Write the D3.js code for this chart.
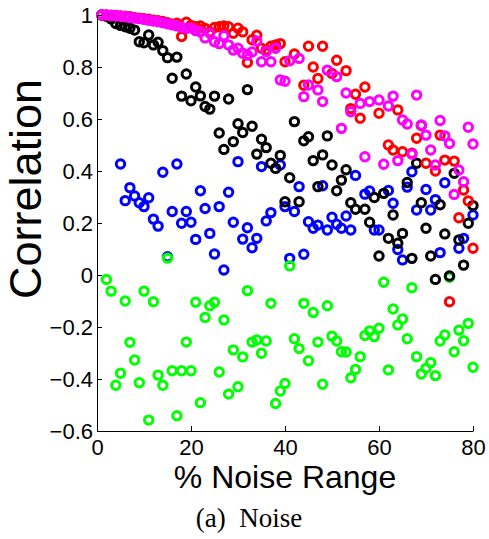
<!DOCTYPE html>
<html>
<head>
<meta charset="utf-8">
<script src="https://cdn.jsdelivr.net/npm/d3@7"></script>
<style>
  html, body { margin: 0; padding: 0; background: #fff; }
  svg { display: block; }
  text { font-family: "Liberation Sans", Arial, Helvetica, sans-serif; fill: #000; }
  .caption { font-family: "Liberation Serif", "DejaVu Serif", serif; white-space: pre; }
</style>
</head>
<body>
<svg id="chart" width="489" height="539"></svg>
<script>
// Correlation vs. % noise range, one series per measure: [noise %, correlation]
const blueSeries = [
  [5,0.427],[6,0.286],[7,0.336],[8,0.304],[9,0.278],[10,0.263],[11,0.297],[12,0.215],[13,0.188],[14,0.395],
  [15,0.07],[16,0.244],[17,0.427],[18,0.199],[19,0.244],[20,0.203],[21,0.137],[22,0.324],[23,0.256],[24,0.160],
  [25,0.081],[26,0.263],[27,0.019],[28,0.318],[29,0.203],[30,0.436],[31,0.138],[32,0.182],[33,0.105],[34,0.141],
  [35,0.417],[36,0.208],[37,0.240],[39,0.423],[40,0.263],[41,0.064],[42,0.244],[43,0.340],[44,0.080],[45,0.205],
  [46,0.180],[47,0.192],[48,0.343],[49,0.173],[50,0.222],[51,0.195],[52,0.180],[53,0.227],[54,0.173],[55,0.383],
  [57,0.311],[58,0.323],[59,0.173],[60,0.173],[62,0.325],[63,0.276],[64,0.098],[65,0.058],[66,0.338],[67,0.397],
  [68,0.250],[70,0.329],[71,0.250],[72,0.290],[73,0.086],[74,0.355],[75,-0.006],[77,0.103],[78,0.141],[80,0.231]
];

const greenSeries = [
  [2,-0.017],[3,-0.062],[4,-0.424],[5,-0.378],[6,-0.100],[7,-0.259],[8,-0.327],[9,-0.414],[10,-0.062],[11,-0.558],
  [12,-0.103],[13,-0.385],[14,-0.424],[15,0.065],[16,-0.368],[17,-0.541],[18,-0.368],[19,-0.258],[20,-0.368],[21,-0.105],
  [22,-0.491],[23,-0.163],[24,-0.118],[25,-0.105],[26,-0.373],[27,-0.173],[28,-0.458],[29,-0.288],[30,-0.430],[31,-0.315],
  [32,-0.060],[33,-0.258],[34,-0.250],[35,-0.301],[36,-0.254],[37,-0.109],[38,-0.494],[39,-0.446],[40,-0.417],[41,0.035],
  [42,-0.245],[43,-0.283],[44,-0.109],[45,-0.330],[46,-0.144],[47,-0.258],[48,-0.420],[49,-0.118],[50,-0.235],[51,-0.254],
  [52,-0.295],[53,-0.296],[54,-0.395],[55,-0.363],[56,-0.314],[57,-0.233],[58,-0.215],[59,-0.237],[60,-0.205],[61,-0.028],
  [62,-0.365],[63,-0.131],[64,-0.192],[65,-0.169],[66,-0.245],[67,-0.049],[68,-0.314],[69,-0.381],[70,-0.359],[71,-0.337],
  [72,-0.387],[73,-0.254],[74,-0.231],[75,-0.009],[76,-0.295],[77,-0.212],[78,-0.253],[79,-0.186],[80,-0.355]
];

const blackSeries = [
  [1,1.0],[2,0.995],[3,0.985],[4,0.967],[5,0.96],[6,0.955],[7,0.949],[8,0.942],[9,0.897],[10,0.893],
  [11,0.923],[12,0.885],[13,0.895],[14,0.863],[15,0.836],[16,0.757],[17,0.838],[18,0.688],[19,0.773],[20,0.670],
  [21,0.723],[22,0.689],[23,0.648],[24,0.638],[25,0.688],[26,0.546],[27,0.483],[28,0.677],[29,0.513],[30,0.582],
  [31,0.548],[32,0.713],[33,0.572],[34,0.465],[35,0.522],[36,0.490],[37,0.43],[38,0.41],[39,0.46],[40,0.282],
  [41,0.374],[42,0.59],[43,0.282],[44,0.516],[45,0.532],[46,0.44],[47,0.34],[48,0.462],[49,0.535],[50,0.423],
  [51,0.324],[52,0.365],[53,0.405],[54,0.278],[55,0.253],[57,0.253],[58,0.203],[59,0.298],[60,0.073],[61,0.314],
  [62,0.141],[63,0.231],[64,0.122],[65,0.160],[66,0.356],[67,0.064],[68,0.43],[69,0.278],[70,0.18],[71,0.073],
  [72,-0.017],[73,0.27],[74,0.158],[75,-0.004],[76,0.391],[77,0.135],[78,0.038],[79,0.199],[80,0.267]
];

const redSeries = [
  [1,1.0],[2,1.0],[3,0.999],[4,0.998],[5,0.996],[6,0.995],[7,0.993],[8,0.99],[9,0.988],[10,0.986],
  [11,0.984],[12,0.98],[13,0.978],[14,0.975],[15,0.97],[16,0.965],[17,0.968],[18,0.917],[19,0.972],[20,0.96],
  [21,0.955],[22,0.958],[23,0.948],[24,0.935],[25,0.952],[26,0.955],[27,0.958],[28,0.955],[29,0.93],[30,0.949],
  [31,0.935],[32,0.817],[33,0.905],[34,0.922],[35,0.872],[36,0.866],[37,0.88],[38,0.885],[39,0.89],[40,0.82],
  [42,0.85],[44,0.73],[45,0.88],[46,0.80],[47,0.756],[48,0.88],[50,0.775],[51,0.826],[53,0.786],[54,0.64],
  [55,0.695],[56,0.603],[57,0.723],[60,0.622],[62,0.50],[63,0.481],[64,0.635],[65,0.474],[67,0.468],[68,0.526],
  [69,0.575],[70,0.43],[72,0.40],[73,0.538],[74,0.442],[75,-0.103],[76,0.438],[77,0.22],[78,0.327],[79,0.285],
  [80,0.103]
];

const magentaSeries = [
  [1,1.0],[2,1.0],[3,0.998],[4,0.997],[5,0.995],[6,0.993],[7,0.99],[8,0.988],[9,0.986],[10,0.983],
  [11,0.98],[12,0.977],[13,0.974],[14,0.97],[15,0.966],[16,0.962],[17,0.958],[18,0.953],[19,0.948],[20,0.95],
  [21,0.94],[22,0.935],[23,0.912],[24,0.93],[25,0.897],[26,0.89],[27,0.92],[28,0.885],[29,0.865],[30,0.872],
  [31,0.853],[32,0.846],[33,0.858],[34,0.90],[35,0.82],[36,0.86],[37,0.82],[38,0.872],[39,0.75],[40,0.745],
  [41,0.824],[43,0.833],[44,0.686],[45,0.731],[47,0.712],[48,0.667],[49,0.788],[51,0.763],[52,0.564],[53,0.70],
  [54,0.628],[56,0.66],[57,0.455],[58,0.667],[60,0.673],[61,0.426],[62,0.65],[63,0.688],[64,0.44],[65,0.596],
  [66,0.581],[67,0.465],[68,0.692],[69,0.577],[70,0.538],[71,0.481],[72,0.423],[73,0.594],[74,0.535],[75,0.506],
  [76,0.31],[77,0.404],[78,0.359],[79,0.568],[80,0.504]
];

const xTicks = [0, 20, 40, 60, 80];
const yTicks = [-0.6, -0.4, -0.2, 0, 0.2, 0.4, 0.6, 0.8, 1];

(function drawChart() {
  const series = [
    { data: blueSeries,    color: "#0000ff" },
    { data: greenSeries,   color: "#00ff00" },
    { data: blackSeries,   color: "#000000" },
    { data: redSeries,     color: "#ff0000" },
    { data: magentaSeries, color: "#ff00ff" }
  ];

  const svg = d3.select("#chart");
  const plotLeft = 97, plotRight = 473, plotTop = 15, plotBottom = 431;

  const x = d3.scaleLinear().domain([0, 80]).range([plotLeft, plotRight]);
  const y = d3.scaleLinear().domain([-0.6, 1]).range([plotBottom, plotTop]);

  // MATLAB-style labels: real minus sign, integers without decimals
  const fmt = v => (v < 0 ? "\u2212" : "") + (v === 0 || v === 1 ? Math.abs(v) : Math.abs(v).toFixed(1));

  // open circle markers
  series.forEach(s => {
    svg.append("g")
      .selectAll("circle")
      .data(s.data)
      .join("circle")
        .attr("cx", d => x(d[0]))
        .attr("cy", d => y(d[1]))
        .attr("r", 4.2)
        .attr("fill", "none")
        .attr("stroke", s.color)
        .attr("stroke-width", 3);
  });

  // x axis, ticks pointing inward
  const xAxis = svg.append("g")
    .attr("transform", `translate(0,${plotBottom})`)
    .call(d3.axisBottom(x).tickValues(xTicks).tickSizeInner(-5).tickSizeOuter(0).tickFormat(d => d));
  xAxis.select(".domain").attr("stroke", "#000").attr("stroke-width", 1);
  xAxis.selectAll(".tick line").attr("stroke", "#000");
  xAxis.selectAll("text").attr("font-size", 22).attr("y", 8).attr("dy", "0.71em");

  // y axis
  const yAxis = svg.append("g")
    .attr("transform", `translate(${plotLeft},0)`)
    .call(d3.axisLeft(y).tickValues(yTicks).tickSizeInner(-5).tickSizeOuter(0).tickFormat(fmt));
  yAxis.select(".domain").attr("stroke", "#000").attr("stroke-width", 1);
  yAxis.selectAll(".tick line").attr("stroke", "#000");
  yAxis.selectAll("text").attr("font-size", 22).attr("x", -4);

  // axis titles
  svg.append("text")
    .attr("x", (plotLeft + plotRight) / 2)
    .attr("y", 488)
    .attr("text-anchor", "middle")
    .attr("font-size", 32)
    .text("% Noise Range");

  svg.append("text")
    .attr("transform", "translate(41,189) rotate(-90)")
    .attr("text-anchor", "middle")
    .attr("font-size", 45)
    .text("Correlation");

  // caption
  svg.append("text")
    .attr("class", "caption")
    .attr("x", 249)
    .attr("y", 527)
    .attr("text-anchor", "middle")
    .attr("font-size", 27)
    .text("(a)  Noise");
})();
</script>
</body>
</html>
